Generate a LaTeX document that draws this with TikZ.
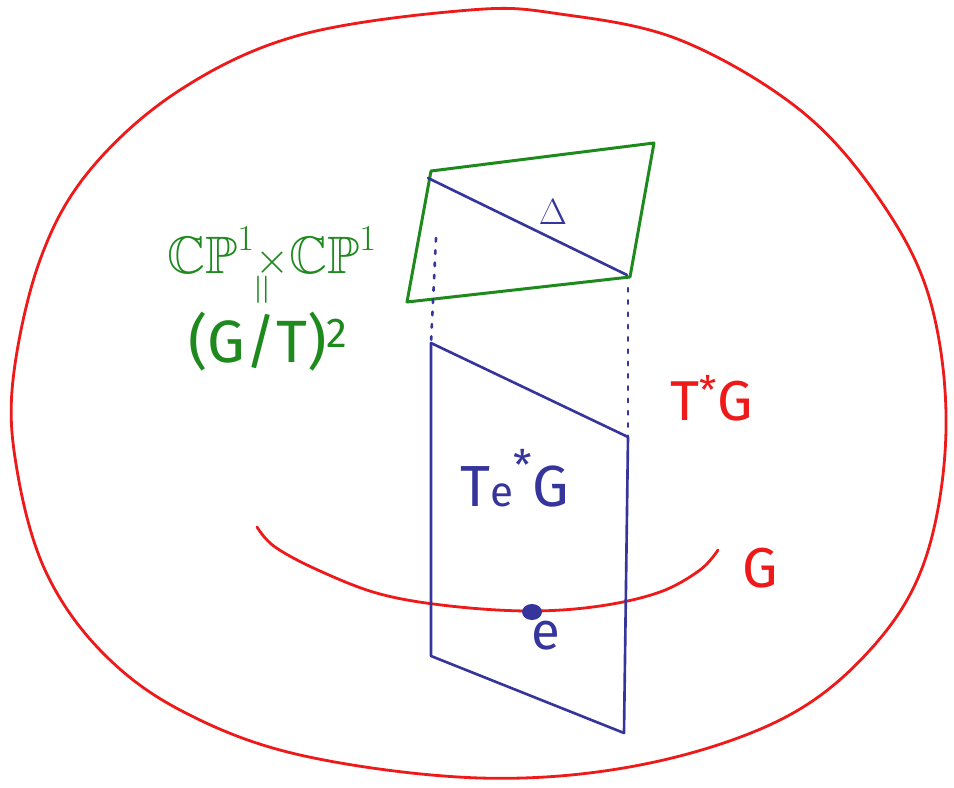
\documentclass[tikz,border=0pt]{standalone}
\usepackage{fontspec}
\setmainfont{Fira Sans}
\usepackage{amssymb}
\usetikzlibrary{positioning}
\definecolor{penred}{HTML}{EE1A1A}
\definecolor{pengreen}{HTML}{1E8A1E}
\definecolor{penblue}{HTML}{35359C}
\newcommand{\penfont}[1]{\fontsize{#1}{#1}\selectfont}
\tikzset{
  redpen/.style={draw=penred, line width=1.6pt, line cap=round, line join=round},
  greenpen/.style={draw=pengreen, line width=1.7pt, line cap=round, line join=round},
  bluepen/.style={draw=penblue, line width=1.5pt, line cap=round, line join=round},
  dotpen/.style={bluepen, dash pattern=on 2pt off 5pt},
  redtext/.style={text=penred, inner sep=0pt},
  greentext/.style={text=pengreen, inner sep=0pt},
  bluetext/.style={text=penblue, inner sep=0pt},
}
\begin{document}
\begin{tikzpicture}[x=0.02cm, y=-0.02cm]
  \useasboundingbox (0,0) rectangle (954,788);
  % cotangent bundle
  \draw[redpen] plot[smooth cycle, tension=0.6] coordinates {
    (470,10) (300,35) (180,90) (90,170) (40,260) (13,380) (17,470) (45,570)
    (100,650) (180,710) (300,755) (480,778) (640,765) (780,720) (870,650)
    (925,560) (946,430) (930,300) (880,200) (800,110) (680,40) (560,14)};
  % group G
  \draw[redpen] plot[smooth, tension=0.6] coordinates {
    (257,527) (275,547) (320,571) (380,594) (450,606) (530,611) (600,606)
    (660,592) (700,570) (718,550)};
  % projective part
  \coordinate (gtl) at (431,171);
  \coordinate (gtr) at (654,143);
  \coordinate (gbr) at (630,277);
  \coordinate (gbl) at (407,302);
  \draw[greenpen] (gtl) -- (gtr) -- (gbr) -- (gbl) -- cycle;
  \draw[bluepen] (428,178) -- (627,275);
  % fibre over e
  \coordinate (ftl) at (431,343);
  \coordinate (ftr) at (628,437);
  \coordinate (fbr) at (624,733);
  \coordinate (fbl) at (431,656);
  \draw[bluepen] (ftl) -- (ftr) -- (fbr);
  \draw[bluepen] (ftl) -- (fbl) -- (fbr);
  \draw[dotpen] (436,238) -- (ftl);
  \draw[dotpen] (628,288) -- (ftr);
  \fill[penblue] (532,612) ellipse [x radius=0.2cm, y radius=0.16cm];
  % labels
  \node[redtext, font=\penfont{32}] (tstarg) at (712,398) {T\textsuperscript{*}G};
  \node[redtext, font=\penfont{32}] (glabel) at (760,568) {G};
  \node[bluetext, font=\penfont{33}] (tefibre) at (515,478) {T{\penfont{24}e}\raisebox{0.45em}{\penfont{24}*}G};
  \node[bluetext, font=\penfont{30}] (elabel) at (546,636) {e};
  \node[bluetext, font=\penfont{20}] (delta) at (553,212) {$\Delta$};
  \node[greentext, font=\penfont{30}] (cpcp) at (272,252) {$\mathbb{CP}^1{\times}\mathbb{CP}^1$};
  \node[greentext, font=\penfont{26}, rotate=90] (iso) at (265,290) {$=$};
  \node[greentext, font=\penfont{34}] (gt) at (268,342) {(G/T)\textsuperscript{2}};
\end{tikzpicture}
\end{document}
